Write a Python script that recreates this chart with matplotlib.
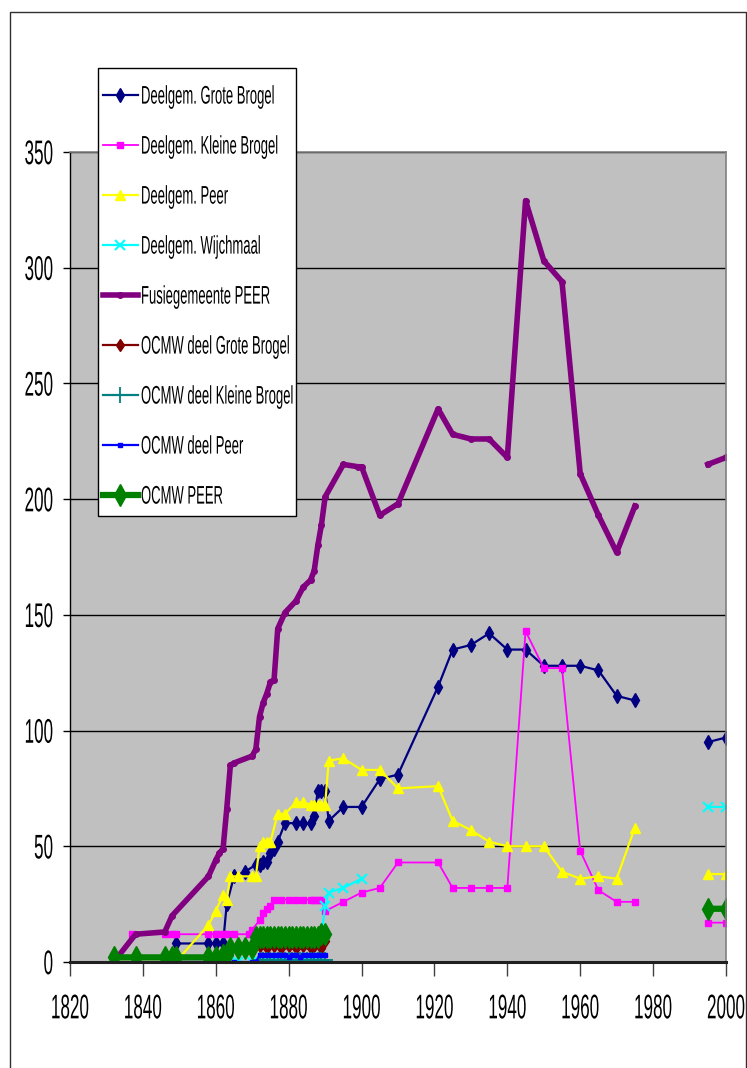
import numpy as np
import matplotlib
matplotlib.use('Agg')
from matplotlib import pyplot as plt
from matplotlib.patches import Rectangle
from matplotlib.patheffects import AbstractPathEffect
from matplotlib.transforms import Affine2D

plt.rcParams['font.family'] = ['Liberation Sans', 'DejaVu Sans']

nan = np.nan

# Deelgem. Grote Brogel
years_grote = [1849, 1858, 1860, 1862, 1863, 1865, 1868, 1871, 1872, 1873, 1874, 1875, 1876, 1877,
               1879, 1882, 1884, 1886, 1887, 1888, 1889, 1890, 1891, 1895, 1900, 1905, 1910, 1921,
               1925, 1930, 1935, 1940, 1945, 1950, 1955, 1960, 1965, 1970, 1975, 1985, 1995, 2000]
grote = [8, 8, 8, 8, 25, 37, 39, 42, 42, 43, 43, 47, 49, 52,
         60, 60, 60, 60, 63, 74, 74, 74, 61, 67, 67, 79, 81, 119,
         135, 137, 142, 135, 135, 128, 128, 128, 126, 115, 113, nan, 95, 97]

# Deelgem. Kleine Brogel
years_kleine = [1837, 1846, 1848, 1849, 1858, 1860, 1862, 1863, 1865, 1869, 1870, 1872, 1873, 1874,
                1875, 1876, 1878, 1880, 1882, 1884, 1886, 1887, 1888, 1889, 1890, 1895, 1900, 1905,
                1910, 1921, 1925, 1930, 1935, 1940, 1945, 1950, 1955, 1960, 1965, 1970, 1975, 1985,
                1995, 2000]
kleine = [12, 12, 12, 12, 12, 12, 12, 12, 12, 12, 14, 18, 21, 23,
          24, 27, 27, 27, 27, 27, 27, 27, 27, 27, 22, 26, 30, 32,
          43, 43, 32, 32, 32, 32, 143, 127, 127, 48, 31, 26, 26, nan,
          17, 17]

# Deelgem. Peer
years_peer = [1832, 1838, 1846, 1848, 1849, 1858, 1860, 1862, 1863, 1864, 1866, 1870, 1871, 1872,
              1873, 1874, 1875, 1877, 1879, 1882, 1884, 1886, 1887, 1888, 1889, 1890, 1891, 1895,
              1900, 1905, 1910, 1921, 1925, 1930, 1935, 1940, 1945, 1950, 1955, 1960, 1965, 1970,
              1975, 1985, 1995, 2000]
peer = [0, 0, 0, 0, 0, 16, 22, 29, 27, 37, 37, 37, 37, 50,
        52, 52, 52, 64, 64, 69, 69, 68, 68, 68, 68, 68, 87, 88,
        83, 83, 75, 76, 61, 57, 52, 50, 50, 50, 39, 36, 37, 36,
        58, nan, 38, 38]

# Deelgem. Wijchmaal
years_wijch = [1858, 1859, 1861, 1862, 1865, 1866, 1870, 1871, 1872, 1873, 1874, 1875, 1876, 1877,
               1878, 1879, 1880, 1881, 1882, 1883, 1884, 1885, 1886, 1887, 1888, 1889, 1890, 1891,
               1895, 1900, 1985, 1995, 2000]
wijch = [0, 0, 0, 0, 0, 0, 0, 0, 0, 0, 0, 0, 0, 0,
         0, 0, 0, 0, 0, 0, 0, 0, 0, 0, 0, 12, 24, 30,
         32, 36, nan, 67, 67]

# Fusiegemeente PEER
years_fusie = [1832, 1838, 1846, 1848, 1858, 1860, 1861, 1862, 1863, 1864, 1865, 1870, 1871, 1872,
               1873, 1874, 1875, 1876, 1877, 1879, 1882, 1884, 1886, 1887, 1888, 1889, 1890, 1895,
               1899, 1900, 1905, 1910, 1921, 1925, 1930, 1935, 1940, 1945, 1950, 1955, 1960, 1965,
               1970, 1975, 1985, 1995, 2000]
fusie = [0, 12, 13, 20, 37, 44, 47, 49, 66, 85, 86, 89, 92, 106,
         112, 116, 121, 122, 144, 151, 156, 162, 165, 169, 180, 189, 201, 215,
         214, 214, 193, 198, 239, 228, 226, 226, 218, 329, 303, 294, 211, 193,
         177, 197, nan, 215, 218]

# OCMW deel Grote Brogel
years_ocmw_grote = [1872, 1873, 1874, 1875, 1876, 1877, 1878, 1879, 1880, 1881, 1882, 1883, 1884,
                    1885, 1886, 1887, 1888, 1889, 1890]
ocmw_grote = [7, 8, 6, 8, 7, 8, 6, 8, 7, 8, 6, 8, 7, 8, 6, 7, 8, 6, 9]

# OCMW deel Kleine Brogel
years_ocmw_kleine = [1872, 1873, 1874, 1875, 1876, 1877, 1878, 1879, 1880, 1881, 1882, 1883, 1884,
                     1885, 1886, 1887, 1888, 1889, 1890]
ocmw_kleine = [1, 1, 1, 1, 1, 1, 1, 1, 1, 1, 1, 1, 1, 1, 1, 1, 1, 1, 1]

# OCMW deel Peer
years_ocmw_peer = [1849, 1858, 1860, 1862, 1863, 1865, 1870, 1871, 1872, 1873, 1874, 1875, 1876,
                   1877, 1878, 1879, 1880, 1881, 1882, 1883, 1884, 1885, 1886, 1887, 1888, 1889, 1890]
ocmw_peer = [0, 0, 0, 0, 0, 0, 0, 0, 3, 3, 3, 3, 3, 3, 3, 3, 2, 3, 3, 2, 3, 3, 3, 3, 3, 3, 3]

# OCMW PEER
years_ocmw = [1832, 1838, 1846, 1848, 1849, 1858, 1860, 1862, 1863, 1864, 1866, 1868, 1870, 1871,
              1872, 1873, 1874, 1875, 1876, 1877, 1878, 1879, 1880, 1881, 1882, 1883, 1884, 1885,
              1886, 1887, 1888, 1889, 1890, 1985, 1995, 2000]
ocmw = [2, 2, 2, 2, 2, 2, 2, 3, 3, 6, 6, 6, 6, 11,
        11, 11, 11, 11, 11, 11, 11, 11, 11, 11, 11, 11, 11, 11,
        11, 11, 11, 12, 12, nan, 23, 23]

series = [
    ('Deelgem. Grote Brogel', years_grote, grote, dict(color='#000080', lw=1.6, marker='d', ms=7)),
    ('Deelgem. Kleine Brogel', years_kleine, kleine, dict(color='#FF00FF', lw=1.3, marker='s', ms=5)),
    ('Deelgem. Peer', years_peer, peer, dict(color='#FFFF00', lw=1.6, marker='^', ms=7)),
    ('Deelgem. Wijchmaal', years_wijch, wijch, dict(color='#00FFFF', lw=1.6, marker='x', ms=7, mew=1.5)),
    ('Fusiegemeente PEER', years_fusie, fusie, dict(color='#800080', lw=4, marker='o', ms=4)),
    ('OCMW deel Grote Brogel', years_ocmw_grote, ocmw_grote, dict(color='#800000', lw=1.6, marker='d', ms=6)),
    ('OCMW deel Kleine Brogel', years_ocmw_kleine, ocmw_kleine, dict(color='#008080', lw=1.6, marker='+', ms=12, mew=1.3)),
    ('OCMW deel Peer', years_ocmw_peer, ocmw_peer, dict(color='#0000FF', lw=1.6, marker='s', ms=3)),
    ('OCMW PEER', years_ocmw, ocmw, dict(color='#008000', lw=4.5, marker='d', ms=11)),
]


# the original text is drawn tall and narrow: stretch glyphs vertically
# around the middle of the cap height (text path units: 100 per em)
class TallText(AbstractPathEffect):
    def __init__(self, sy):
        super().__init__()
        self.sy = sy

    def draw_path(self, renderer, gc, tpath, affine, rgbFace=None):
        cy = 36
        t = Affine2D().translate(0, -cy).scale(1, self.sy).translate(0, cy) + affine
        renderer.draw_path(gc, tpath, t, rgbFace)


fig = plt.figure(figsize=(7.47, 10.68), dpi=100)
ax = fig.add_axes([70 / 747, 1 - 962 / 1068, (726 - 70) / 747, (962 - 152) / 1068])
ax.set_facecolor('#C0C0C0')

for label, x, y, style in series:
    ax.plot(x, y, label=label, **style)

ax.set_xlim(1820, 2000)
ax.set_ylim(0, 350)
ax.set_xticks(np.arange(1820, 2001, 20))
ax.set_yticks(np.arange(0, 351, 50))
ax.yaxis.grid(True, color='black', lw=1)
ax.set_axisbelow(True)

for side in ['top', 'right']:
    ax.spines[side].set_color('#808080')
    ax.spines[side].set_linewidth(1.2)
ax.spines['left'].set_color('black')
ax.spines['left'].set_linewidth(1)
ax.spines['bottom'].set_color('#202020')
ax.spines['bottom'].set_linewidth(2.2)

ax.tick_params(axis='x', direction='out', length=10, width=1, color='#404040', pad=17.5, labelsize=12.3)
ax.tick_params(axis='y', direction='out', length=5, width=1, color='black', pad=7.2, labelsize=12.3)
for lab in ax.get_xticklabels() + ax.get_yticklabels():
    lab.set_path_effects([TallText(2.0)])

leg = fig.legend(loc='upper left', bbox_to_anchor=(103 / 747, 1 - 90 / 1068), frameon=False,
                 fontsize=9.4, labelspacing=2.9, handlelength=2.68, handletextpad=0.23,
                 borderpad=0, borderaxespad=0)
for t in leg.get_texts():
    t.set_path_effects([TallText(1.95)])

# legend box and outer chart border
fig.patches.append(Rectangle((98 / 747, 1 - 516 / 1068), (296 - 98) / 747, (516 - 68) / 1068,
                             transform=fig.transFigure, facecolor='white', edgecolor='black',
                             lw=1, zorder=1))
fig.patches.append(Rectangle((10 / 747, -0.01), (746 - 10) / 747, 1.01 - 12 / 1068,
                             transform=fig.transFigure, fill=False, edgecolor='#303030', lw=1))

fig.savefig('out.png', dpi=100)
plt.close(fig)
